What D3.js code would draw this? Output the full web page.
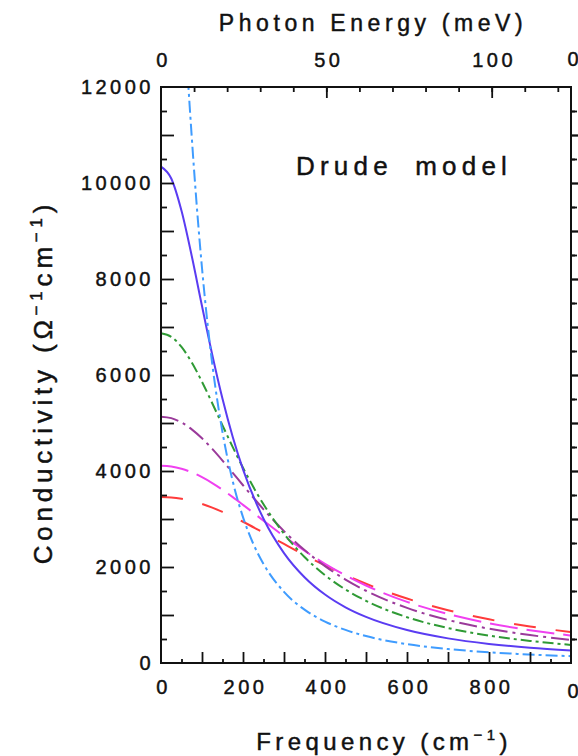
<!DOCTYPE html>
<html>
<head>
<meta charset="utf-8">
<script src="https://cdn.jsdelivr.net/npm/d3@7"></script>
<style>
  html, body { margin: 0; padding: 0; background: #fff; }
  svg { display: block; }
  text { font-family: "Liberation Sans", Arial, Helvetica, sans-serif; fill: #111; stroke: #111; stroke-width: 0.45px; }
</style>
</head>
<body>
<svg id="chart" width="578" height="756"></svg>
<script>
// ---- data ----
const freqGrid = [0, 25, 50, 75, 100, 125, 150, 175, 200, 250, 300, 350, 400, 450, 500, 600, 700, 800, 900, 1000];

const seriesBlue    = [10340, 10094, 9420, 8478, 7436, 6421, 5503, 4708, 4035, 3005, 2290, 1787, 1426, 1160, 960, 686, 513, 398, 317, 258];
const seriesGreen   = [6868, 6795, 6585, 6262, 5859, 5412, 4950, 4497, 4067, 3308, 2694, 2209, 1829, 1531, 1295, 954, 728, 571, 460, 377];
const seriesPurple  = [5132, 5101, 5011, 4868, 4681, 4460, 4217, 3962, 3703, 3202, 2747, 2353, 2018, 1738, 1505, 1148, 896, 715, 582, 482];
const seriesMagenta = [4111, 4095, 4048, 3973, 3871, 3749, 3609, 3456, 3295, 2965, 2641, 2338, 2066, 1825, 1614, 1274, 1020, 829, 684, 572];
const seriesRed     = [3458, 3449, 3421, 3375, 3313, 3237, 3148, 3049, 2943, 2715, 2481, 2251, 2034, 1833, 1651, 1343, 1100, 910, 761, 643];

const freqLightBlue   = [40, 50, 60, 70, 80, 90, 100, 110, 125, 150, 175, 200, 225, 250, 300, 350, 400, 450, 500, 600, 700, 800, 900, 1000];
const seriesLightBlue = [16020, 14357, 12944, 11594, 10349, 9227, 8229, 7350, 6233, 4808, 3785, 3039, 2484, 2063, 1482, 1111, 863, 689, 561, 393, 291, 223, 177, 143];

const yTickLabels = [0, 2000, 4000, 6000, 8000, 10000, 12000];
const xTickLabels = [0, 200, 400, 600, 800];
const topTickLabels = [0, 50, 100];

// ---- layout ----
const L = 161, R = 571, T = 87, B = 663;
const svg = d3.select("#chart");

const x = d3.scaleLinear().domain([0, 1000]).range([L, R]);
const y = d3.scaleLinear().domain([0, 12000]).range([B, T]);
const meVperCm = 1 / 8.0655;
const xTop = d3.scaleLinear().domain([0, 1000 * meVperCm]).range([L, R]);

svg.append("clipPath").attr("id", "clip")
  .append("rect").attr("x", L).attr("y", T).attr("width", R - L).attr("height", B - T);

// ---- curves ----
const line = d3.line().curve(d3.curveMonotoneX).x(d => x(d[0])).y(d => y(d[1]));
const curves = [
  { f: freqGrid, v: seriesRed,       color: "#ff3b3b", dash: "22,20" },
  { f: freqGrid, v: seriesMagenta,   color: "#f040f0", dash: "28,9" },
  { f: freqGrid, v: seriesPurple,    color: "#9a3a9a", dash: "18,5,3,5" },
  { f: freqGrid, v: seriesGreen,     color: "#2f9a35", dash: "11,4,3,4" },
  { f: freqGrid, v: seriesBlue,      color: "#5a3cf2", dash: null },
  { f: freqLightBlue, v: seriesLightBlue, color: "#3f9cff", dash: "12,4,3,4" }
];
const gCurves = svg.append("g").attr("clip-path", "url(#clip)");
curves.forEach(c => {
  gCurves.append("path")
    .datum(c.f.map((f, i) => [f, c.v[i]]))
    .attr("d", line)
    .attr("fill", "none")
    .attr("stroke", c.color)
    .attr("stroke-width", 2)
    .attr("stroke-dasharray", c.dash);
});

// ---- axes ----
const axisStyle = g => {
  g.select(".domain").remove();
  g.selectAll(".tick line").attr("stroke", "#111").attr("stroke-width", 1.8);
  g.selectAll(".tick text").style("font-size", "20px").style("letter-spacing", "3.5px")
    .attr("fill", "#111");
};

// bottom
svg.append("g").attr("transform", `translate(0,${B})`)
  .call(d3.axisBottom(x).tickValues(d3.range(50, 1000, 100)).tickSize(-4).tickFormat(""))
  .call(axisStyle);
svg.append("g").attr("transform", `translate(0,${B})`)
  .call(d3.axisBottom(x).tickValues(d3.range(100, 1000, 100)).tickSize(-11).tickFormat(""))
  .call(axisStyle);
svg.append("g").attr("transform", `translate(2,${B})`)
  .call(d3.axisBottom(x).tickValues(xTickLabels).tickSize(0).tickPadding(17).tickFormat(d3.format("d")))
  .call(axisStyle);

// top (meV)
svg.append("g").attr("transform", `translate(0,${T})`)
  .call(d3.axisTop(xTop).tickValues(d3.range(10, 124, 10)).tickSize(-5).tickFormat(""))
  .call(axisStyle);
svg.append("g").attr("transform", `translate(0,${T})`)
  .call(d3.axisTop(xTop).tickValues([50, 100]).tickSize(-11).tickFormat(""))
  .call(axisStyle);
svg.append("g").attr("transform", `translate(2,${T})`)
  .call(d3.axisTop(xTop).tickValues(topTickLabels).tickSize(0).tickPadding(20).tickFormat(d3.format("d")))
  .call(axisStyle);

// left
svg.append("g").attr("transform", `translate(${L},0)`)
  .call(d3.axisLeft(y).tickValues(d3.range(500, 12000, 1000)).tickSize(-6).tickFormat(""))
  .call(axisStyle);
svg.append("g").attr("transform", `translate(${L},0)`)
  .call(d3.axisLeft(y).tickValues(d3.range(1000, 12000, 1000)).tickSize(-13).tickFormat(""))
  .call(axisStyle);
svg.append("g").attr("transform", `translate(${L - 5},0)`)
  .call(d3.axisLeft(y).tickValues(yTickLabels).tickSize(0).tickPadding(2).tickFormat(d3.format("d")))
  .call(axisStyle);

// right (shared with neighbouring panel: ticks on both sides)
svg.append("g").attr("transform", `translate(${R},0)`)
  .call(d3.axisRight(y).tickValues(d3.range(500, 12000, 1000)).tickSize(6).tickFormat(""))
  .call(axisStyle);
svg.append("g").attr("transform", `translate(${R},0)`)
  .call(d3.axisLeft(y).tickValues(d3.range(500, 12000, 1000)).tickSize(-4).tickFormat(""))
  .call(axisStyle);
svg.append("g").attr("transform", `translate(${R},0)`)
  .call(d3.axisRight(y).tickValues(d3.range(1000, 12000, 1000)).tickSize(13).tickFormat(""))
  .call(axisStyle);
svg.append("g").attr("transform", `translate(${R},0)`)
  .call(d3.axisLeft(y).tickValues(d3.range(1000, 12000, 1000)).tickSize(-13).tickFormat(""))
  .call(axisStyle);

// frame
svg.append("rect").attr("x", L).attr("y", T).attr("width", R - L).attr("height", B - T)
  .attr("fill", "none").attr("stroke", "#111").attr("stroke-width", 2);

// neighbouring panel's zero labels (cut by the edge)
svg.append("text").attr("x", R + 2).attr("y", 66).attr("text-anchor", "middle")
  .style("font-size", "20px").text("0");
svg.append("text").attr("x", R + 2).attr("y", 698).attr("text-anchor", "middle")
  .style("font-size", "20px").text("0");

// ---- titles ----
svg.append("text").attr("x", 373).attr("y", 31).attr("text-anchor", "middle")
  .style("font-size", "23px").style("letter-spacing", "4.6px").text("Photon Energy (meV)");

const xt = svg.append("text").attr("x", 384).attr("y", 750).attr("text-anchor", "middle")
  .style("font-size", "24px").style("letter-spacing", "4.4px");
xt.append("tspan").text("Frequency (cm");
xt.append("tspan").attr("dy", -10).style("font-size", "15px").text("−1");
xt.append("tspan").attr("dy", 10).text(")");

const yt = svg.append("text").attr("transform", `translate(52,382) rotate(-90)`).attr("text-anchor", "middle")
  .style("font-size", "26px").style("letter-spacing", "4.8px");
yt.append("tspan").text("Conductivity  (Ω");
yt.append("tspan").attr("dy", -10).style("font-size", "17px").text("−1");
yt.append("tspan").attr("dy", 10).text("cm");
yt.append("tspan").attr("dy", -10).style("font-size", "17px").text("−1");
yt.append("tspan").attr("dy", 10).text(")");

svg.append("text").attr("x", 296).attr("y", 175)
  .style("font-size", "26px").style("letter-spacing", "5.2px").style("word-spacing", "10px")
  .text("Drude model");
</script>
</body>
</html>
